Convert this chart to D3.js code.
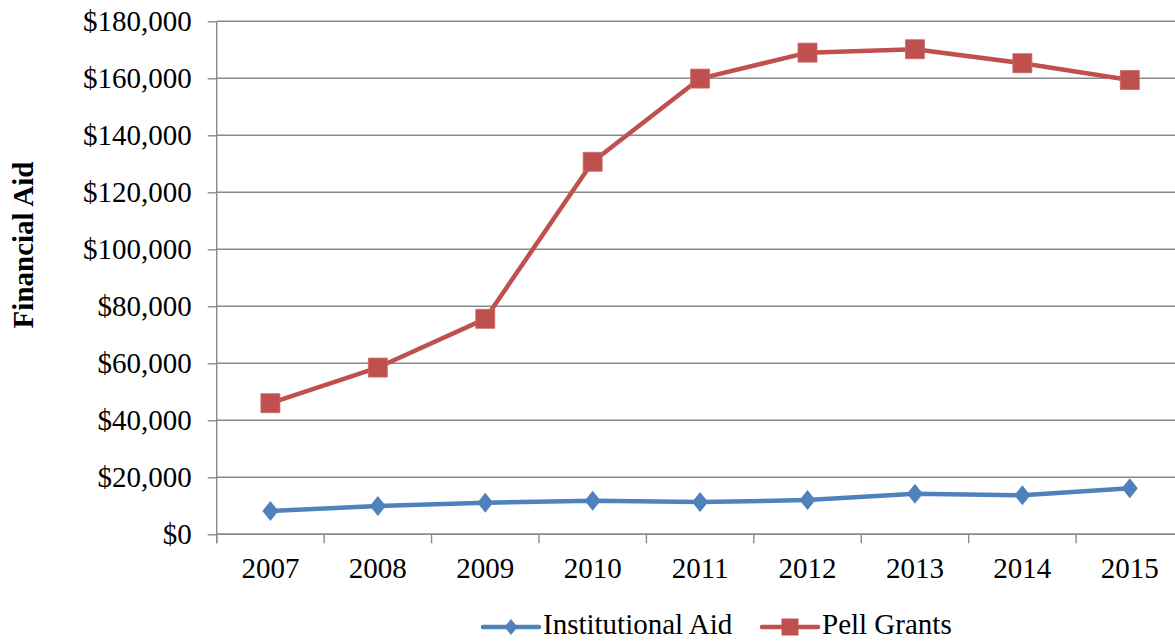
<!DOCTYPE html>
<html>
<head>
<meta charset="utf-8">
<script src="https://cdn.jsdelivr.net/npm/d3@7"></script>
<style>
  html, body { margin: 0; padding: 0; background: #fff; }
  svg { display: block; }
  text { font-family: "Liberation Serif", "Times New Roman", serif; fill: #000; }
</style>
</head>
<body>
<svg id="chart" width="1175" height="641"></svg>
<script>
// Financial aid per year, two series
const years = ["2007", "2008", "2009", "2010", "2011", "2012", "2013", "2014", "2015"];
const institutionalAid = [8200, 9900, 11100, 11800, 11300, 12000, 14200, 13700, 16200];
const pellGrants = [46000, 58500, 75600, 130700, 159900, 169000, 170200, 165300, 159400];
const yTicks = [0, 20000, 40000, 60000, 80000, 100000, 120000, 140000, 160000, 180000];
const seriesNames = ["Institutional Aid", "Pell Grants"];

const blue = "#4F81BD";
const red = "#C0504D";
const gridColor = "#8a8a8a";

const svg = d3.select("#chart");
const plotLeft = 216.7, plotRight = 1183.5, plotTop = 21.3, plotBottom = 534.3;

const x = d3.scaleBand().domain(years).range([plotLeft, plotRight]).padding(0);
const y = d3.scaleLinear().domain([0, 180000]).range([plotBottom, plotTop]);
const fmt = v => "$" + d3.format(",")(v);

// horizontal gridlines
svg.append("g").selectAll("line").data(yTicks).join("line")
  .attr("x1", plotLeft).attr("x2", plotRight)
  .attr("y1", d => y(d)).attr("y2", d => y(d))
  .attr("stroke", gridColor).attr("stroke-width", 1.4);

// y axis
const yAxis = d3.axisLeft(y).tickValues(yTicks).tickFormat(fmt).tickSize(9).tickPadding(16);
const gy = svg.append("g").attr("transform", `translate(${plotLeft},0)`).call(yAxis);
gy.attr("font-family", null);
gy.select(".domain").attr("stroke", gridColor).attr("stroke-width", 1.4)
  .attr("d", `M0,${plotTop}V${plotBottom + 9}`);
gy.selectAll(".tick line").attr("stroke", gridColor).attr("stroke-width", 1.4);
gy.selectAll(".tick text").attr("font-size", 29).attr("dy", "0.33em").attr("fill", "#000");

// x axis with ticks at category boundaries
const gx = svg.append("g").attr("transform", `translate(0,${plotBottom})`);
gx.append("line").attr("x1", plotLeft).attr("x2", plotRight).attr("y1", 0).attr("y2", 0)
  .attr("stroke", gridColor).attr("stroke-width", 1.4);
const boundaries = years.map(d => x(d)).concat([x(years[years.length - 1]) + x.bandwidth()]);
gx.selectAll("line.tk").data(boundaries).join("line").attr("class", "tk")
  .attr("x1", d => d).attr("x2", d => d).attr("y1", 0).attr("y2", 9)
  .attr("stroke", gridColor).attr("stroke-width", 1.4);
gx.selectAll("text").data(years).join("text")
  .attr("x", d => x(d) + x.bandwidth() / 2).attr("y", 44)
  .attr("text-anchor", "middle").attr("font-size", 29).text(d => d);

// y axis title
svg.append("text")
  .attr("transform", "translate(33,245) rotate(-90)")
  .attr("text-anchor", "middle").attr("font-size", 29).attr("font-weight", "bold")
  .text("Financial Aid");

const cx = d => x(d) + x.bandwidth() / 2;
const line = d3.line().x((d, i) => cx(years[i])).y(d => y(d));

const diamond = (w, h) => `M0,${-h / 2}L${w / 2},0L0,${h / 2}L${-w / 2},0Z`;
const square = s => `M${-s / 2},${-s / 2}h${s}v${s}h${-s}Z`;

// Pell Grants series
svg.append("path").datum(pellGrants).attr("d", line)
  .attr("fill", "none").attr("stroke", red).attr("stroke-width", 4.5).attr("stroke-linejoin", "round");
svg.append("g").selectAll("path").data(pellGrants).join("path")
  .attr("transform", (d, i) => `translate(${cx(years[i])},${y(d)})`)
  .attr("d", square(19)).attr("fill", red).attr("stroke", "#c86a67").attr("stroke-width", 0.8);

// Institutional Aid series
svg.append("path").datum(institutionalAid).attr("d", line)
  .attr("fill", "none").attr("stroke", blue).attr("stroke-width", 4.5).attr("stroke-linejoin", "round");
svg.append("g").selectAll("path").data(institutionalAid).join("path")
  .attr("transform", (d, i) => `translate(${cx(years[i])},${y(d)})`)
  .attr("d", diamond(16, 20)).attr("fill", blue);

// legend
const legendY = 627;
const legend = svg.append("g");
const items = [
  { name: seriesNames[0], color: blue, x0: 483, shape: diamond(13, 16), textX: 543 },
  { name: seriesNames[1], color: red, x0: 762, shape: square(17), textX: 822 }
];
items.forEach(it => {
  legend.append("line").attr("x1", it.x0).attr("x2", it.x0 + 56)
    .attr("y1", legendY).attr("y2", legendY)
    .attr("stroke", it.color).attr("stroke-width", 4.5).attr("stroke-linecap", "round");
  legend.append("path").attr("transform", `translate(${it.x0 + 28},${legendY})`)
    .attr("d", it.shape).attr("fill", it.color);
  legend.append("text").attr("x", it.textX).attr("y", legendY + 7)
    .attr("font-size", 29).text(it.name);
});
</script>
</body>
</html>
